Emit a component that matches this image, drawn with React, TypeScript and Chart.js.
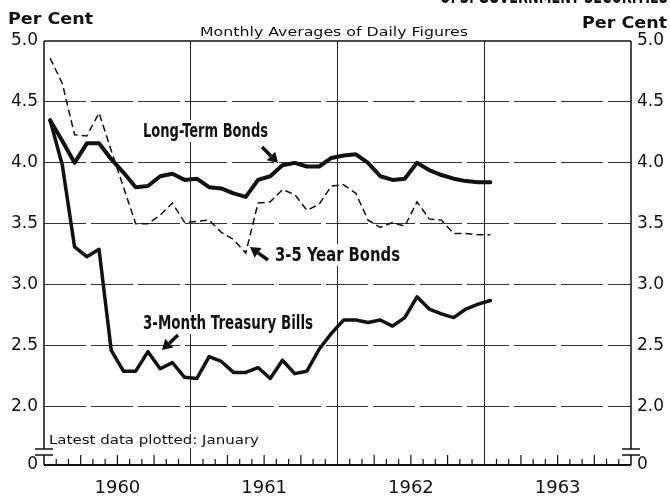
import React, { useEffect, useRef } from 'react';
import { Chart, registerables } from 'chart.js';

Chart.register(...registerables);

// Months plotted: January 1960 through January 1963
const months = [
  'Jan 1960', 'Feb 1960', 'Mar 1960', 'Apr 1960', 'May 1960', 'Jun 1960', 'Jul 1960', 'Aug 1960', 'Sep 1960', 'Oct 1960', 'Nov 1960', 'Dec 1960',
  'Jan 1961', 'Feb 1961', 'Mar 1961', 'Apr 1961', 'May 1961', 'Jun 1961', 'Jul 1961', 'Aug 1961', 'Sep 1961', 'Oct 1961', 'Nov 1961', 'Dec 1961',
  'Jan 1962', 'Feb 1962', 'Mar 1962', 'Apr 1962', 'May 1962', 'Jun 1962', 'Jul 1962', 'Aug 1962', 'Sep 1962', 'Oct 1962', 'Nov 1962', 'Dec 1962',
  'Jan 1963',
];

const longTermBonds = [
  4.35, 4.18, 4.0, 4.16, 4.16, 4.03, 3.92, 3.8, 3.81, 3.89, 3.91, 3.86,
  3.87, 3.8, 3.79, 3.75, 3.72, 3.86, 3.89, 3.98, 4.0, 3.97, 3.97, 4.04,
  4.06, 4.07, 4.0, 3.89, 3.86, 3.87, 4.0, 3.94, 3.9, 3.87, 3.85, 3.84,
  3.84,
];

const threeFiveYearBonds = [
  4.86, 4.65, 4.23, 4.22, 4.41, 4.1, 3.8, 3.5, 3.5, 3.57, 3.67, 3.51,
  3.52, 3.53, 3.43, 3.37, 3.26, 3.67, 3.68, 3.78, 3.74, 3.61, 3.66, 3.81,
  3.82, 3.75, 3.53, 3.47, 3.51, 3.48, 3.68, 3.54, 3.53, 3.42, 3.42, 3.41,
  3.41,
];

const threeMonthBills = [
  4.35, 3.98, 3.31, 3.23, 3.29, 2.46, 2.29, 2.29, 2.45, 2.31, 2.36, 2.24,
  2.23, 2.41, 2.37, 2.28, 2.28, 2.32, 2.23, 2.38, 2.27, 2.29, 2.47, 2.6,
  2.71, 2.71, 2.69, 2.71, 2.66, 2.73, 2.9, 2.8, 2.76, 2.73, 2.8, 2.84,
  2.87,
];

const yearLabels = ['1960', '1961', '1962', '1963'];
const yTickValues = [1.52, 2.0, 2.5, 3.0, 3.5, 4.0, 4.5, 5.0];
const yTickLabels = ['0', '2.0', '2.5', '3.0', '3.5', '4.0', '4.5', '5.0'];

const TICK_FONT = { family: '"DejaVu Sans", sans-serif', size: 17 };
const ANNOT_FONT = 'bold 20px "Liberation Sans Narrow", "DejaVu Sans Condensed", "DejaVu Sans", sans-serif';
const SMALL_FONT = '12px "DejaVu Sans", sans-serif';

function fitText(ctx: CanvasRenderingContext2D, text: string, x: number, y: number, w: number, font: string, bg?: boolean) {
  ctx.save();
  ctx.font = font;
  ctx.textAlign = 'left';
  ctx.textBaseline = 'alphabetic';
  const m = ctx.measureText(text).width;
  if (bg) {
    ctx.fillStyle = '#ffffff';
    ctx.fillRect(x - 3, y - 17, w + 6, 22);
  }
  ctx.translate(x, y);
  ctx.scale(w / m, 1);
  ctx.fillStyle = '#111';
  ctx.fillText(text, 0, 0);
  ctx.restore();
}

function drawArrow(ctx: CanvasRenderingContext2D, tx: number, ty: number, hx: number, hy: number) {
  const dx = hx - tx, dy = hy - ty;
  const len = Math.hypot(dx, dy);
  const ux = dx / len, uy = dy / len;
  const px = -uy, py = ux;
  const headLen = 10, headW = 6;
  const bx = hx - ux * headLen, by = hy - uy * headLen;
  ctx.save();
  ctx.strokeStyle = '#111';
  ctx.fillStyle = '#111';
  ctx.lineWidth = 3.5;
  ctx.beginPath();
  ctx.moveTo(tx, ty);
  ctx.lineTo(bx, by);
  ctx.stroke();
  ctx.beginPath();
  ctx.moveTo(hx, hy);
  ctx.lineTo(bx + px * headW, by + py * headW);
  ctx.lineTo(bx - px * headW, by - py * headW);
  ctx.closePath();
  ctx.fill();
  ctx.restore();
}

const decorPlugin = {
  id: 'decor',
  afterDraw(chart: any) {
    const ctx: CanvasRenderingContext2D = chart.ctx;
    const { left, right, top, bottom } = chart.chartArea;
    const xs = chart.scales.x;
    const line = (x1: number, y1: number, x2: number, y2: number) => {
      ctx.beginPath();
      ctx.moveTo(x1, y1);
      ctx.lineTo(x2, y2);
      ctx.stroke();
    };
    ctx.save();
    ctx.strokeStyle = '#111';
    // frame
    ctx.lineWidth = 1.5;
    line(left, top, right, top);
    ctx.lineWidth = 2;
    line(left, bottom, right, bottom);
    const brk1 = bottom - 16;
    const brk2 = bottom - 10;
    ctx.lineWidth = 1.5;
    for (const ax of [left, right]) {
      line(ax, top, ax, brk1);
      line(ax, brk2, ax, bottom);
      line(ax - 9, brk1, ax + 9, brk1);
      line(ax - 9, brk2, ax + 9, brk2);
    }
    // monthly ticks along the base
    ctx.lineWidth = 1.2;
    for (let k = 1; k < 48; k++) {
      if (k % 12 === 0) continue;
      const x = xs.getPixelForValue(k - 0.5);
      const len = k % 3 === 0 ? 10 : 6;
      line(x, bottom, x, bottom - len);
    }
    ctx.restore();

    // headings (top title is cut off by the page edge in the original)
    fitText(ctx, 'U. S. GOVERNMENT SECURITIES', 440, 3, 228, 'bold 20px "DejaVu Sans", sans-serif');
    fitText(ctx, 'Per Cent', 8, 24, 85, 'bold 16px "DejaVu Sans", sans-serif');
    fitText(ctx, 'Per Cent', 582, 28, 85, 'bold 16px "DejaVu Sans", sans-serif');
    fitText(ctx, 'Monthly Averages of Daily Figures', 200, 36, 268, SMALL_FONT);

    // annotations
    fitText(ctx, 'Long-Term Bonds', 143, 137, 125, ANNOT_FONT, true);
    fitText(ctx, '3-5 Year Bonds', 275, 261, 125, ANNOT_FONT, true);
    fitText(ctx, '3-Month Treasury Bills', 143, 329, 170, ANNOT_FONT, true);
    drawArrow(ctx, 262, 147, 278, 163);
    drawArrow(ctx, 268, 260, 250, 247);
    drawArrow(ctx, 178, 335, 162, 350);

    // note
    ctx.save();
    ctx.fillStyle = '#fff';
    ctx.fillRect(47, 432, 214, 16);
    ctx.restore();
    fitText(ctx, 'Latest data plotted: January', 49, 444, 210, SMALL_FONT);
  },
};

export default function App() {
  const ref = useRef<HTMLCanvasElement | null>(null);

  useEffect(() => {
    if (!ref.current) return;
    const toPts = (arr: number[]) => arr.map((v, i) => ({ x: i, y: v }));
    const yTicksCb = (v: any) => {
      const idx = yTickValues.indexOf(Number(v));
      return idx >= 0 ? yTickLabels[idx] : '';
    };
    const chart = new Chart(ref.current, {
      type: 'line',
      data: {
        labels: months,
        datasets: [
          {
            label: 'Long-Term Bonds',
            data: toPts(longTermBonds),
            borderColor: '#111',
            borderWidth: 4,
            pointRadius: 0,
            tension: 0,
            borderJoinStyle: 'round',
            borderCapStyle: 'round',
          },
          {
            label: '3-Month Treasury Bills',
            data: toPts(threeMonthBills),
            borderColor: '#111',
            borderWidth: 3.5,
            pointRadius: 0,
            tension: 0,
            borderJoinStyle: 'round',
            borderCapStyle: 'round',
          },
          {
            label: '3-5 Year Bonds',
            data: toPts(threeFiveYearBonds),
            borderColor: '#111',
            borderWidth: 1.5,
            borderDash: [7, 4],
            pointRadius: 0,
            tension: 0,
          },
        ],
      },
      options: {
        animation: false,
        responsive: false,
        devicePixelRatio: 1,
        layout: { padding: { top: 41, left: 0, right: 0, bottom: 0 } },
        plugins: { legend: { display: false }, tooltip: { enabled: false }, title: { display: false } },
        scales: {
          x: {
            type: 'linear',
            min: -0.5,
            max: 47.5,
            afterBuildTicks: (s: any) => {
              s.ticks = [5.5, 11.5, 17.5, 23.5, 29.5, 35.5, 41.5].map((value) => ({ value }));
            },
            afterFit: (s: any) => {
              s.height = 33;
            },
            ticks: {
              autoSkip: false,
              maxRotation: 0,
              padding: 13,
              color: '#111',
              font: { family: '"DejaVu Sans", sans-serif', size: 18 },
              callback: (v: any) => {
                const n = Number(v);
                if ((n - 5.5) % 12 === 0) return yearLabels[(n - 5.5) / 12];
                return '';
              },
            },
            grid: {
              drawTicks: false,
              lineWidth: 1,
              color: (c: any) => (c.tick && (c.tick.value - 11.5) % 12 === 0 ? '#222' : 'rgba(0,0,0,0)'),
            },
            border: { display: false },
          },
          y: {
            type: 'linear',
            position: 'left',
            min: 1.52,
            max: 5.0,
            afterBuildTicks: (s: any) => {
              s.ticks = yTickValues.map((value) => ({ value }));
            },
            afterFit: (s: any) => {
              s.width = 44;
            },
            ticks: { color: '#111', font: TICK_FONT, padding: 6, callback: yTicksCb },
            grid: {
              drawTicks: false,
              lineWidth: 1,
              color: (c: any) => (c.tick && c.tick.value > 1.9 && c.tick.value < 4.9 ? '#333' : 'rgba(0,0,0,0)'),
            },
            border: { display: false, dash: [42, 5] },
          },
          y2: {
            type: 'linear',
            position: 'right',
            min: 1.52,
            max: 5.0,
            afterBuildTicks: (s: any) => {
              s.ticks = yTickValues.map((value) => ({ value }));
            },
            afterFit: (s: any) => {
              s.width = 39;
            },
            ticks: { color: '#111', font: TICK_FONT, padding: 6, callback: yTicksCb },
            grid: { display: false, drawTicks: false },
            border: { display: false },
          },
        },
      },
      plugins: [decorPlugin],
    } as any);
    return () => chart.destroy();
  }, []);

  return (
    <div style={{ position: 'fixed', left: 0, top: 0, width: 670, height: 498, background: '#fff' }}>
      <canvas ref={ref} width={670} height={498} style={{ display: 'block', width: 670, height: 498 }} />
    </div>
  );
}
